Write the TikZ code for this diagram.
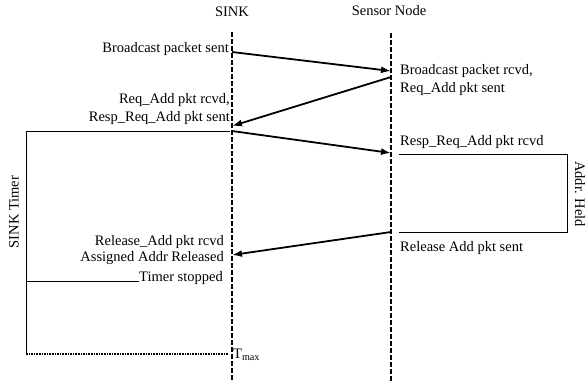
\documentclass[tikz,border=0pt]{standalone}
\usepackage{fontspec}
\setmainfont{Liberation Serif}
\usepackage{tikz}
\usetikzlibrary{arrows.meta, positioning}

\tikzset{
    lifeline/.style={line width=1.5pt, dash pattern=on 5pt off 2pt},
    msg/.style={line width=1.8pt, -{Latex[length=10pt, width=7pt]}},
    lbl/.style={inner sep=0pt, font=\fontsize{14.5}{18}\selectfont},
    timer/.style={line width=0.8pt}
}

\begin{document}
\begin{tikzpicture}[x=1pt, y=-1pt]
    \useasboundingbox (0,0) rectangle (588,381);
    % 1. Lifelines
    \node[lbl] (sink) at (232,12) {SINK};
    \node[lbl] (sensor) at (389,11) {Sensor Node};
    \coordinate (sinktop) at (232,32);
    \coordinate (sinkbot) at (232,381);
    \coordinate (sensortop) at (391,33);
    \coordinate (sensorbot) at (391,381);
    \draw[lifeline] (sinktop) -- (sinkbot);
    \draw[lifeline] (sensortop) -- (sensorbot);

    % 2. Points on the lifelines
    \coordinate (s1) at (232,52);
    \coordinate (n1) at (391,71);
    \coordinate (n2) at (391,77);
    \coordinate (s2) at (232,126);
    \coordinate (s3) at (232,131);
    \coordinate (n3) at (391,153);
    \coordinate (n4) at (391,232);
    \coordinate (s4) at (232,255);

    % 3. Messages
    \draw[msg] (s1) -- (n1);
    \draw[msg] (n2) -- (s2);
    \draw[msg] (s3) -- (n3);
    \draw[msg] (n4) -- (s4);

    % 4. Labels
    \node[lbl, anchor=east] (bsent) at (229,49) {Broadcast packet sent};
    \node[lbl, anchor=west, align=left] (brcvd) at (400,80) {Broadcast packet rcvd,\\Req\_Add pkt sent};
    \node[lbl, anchor=east, align=right] (reqrcvd) at (230,109) {Req\_Add pkt rcvd,\\Resp\_Req\_Add pkt sent};
    \node[lbl, anchor=west] (resprcvd) at (400,142) {Resp\_Req\_Add pkt rcvd};
    \node[lbl, anchor=west] (relsent) at (400,248) {Release Add pkt sent};
    \node[lbl, anchor=east, align=right] (relrcvd) at (224,250) {Release\_Add pkt rcvd\\[-2pt]Assigned Addr Released};
    \node[lbl, anchor=base east] (tstop) at (223,281) {Timer stopped};
    \node[lbl, anchor=west] (tmax) at (233,355) {T\textsubscript{max}};

    % 5. Sink timer
    \coordinate (ttop) at (26,131);
    \coordinate (tbot) at (26,354);
    \draw[timer] (230,131) -- (ttop) -- (tbot);
    \draw[timer] (26,281) -- (tstop.base west);
    \draw[line width=1.6pt, densely dotted] (tbot) -- (228,354);
    \node[lbl, rotate=90] (sinktimer) at (14,212) {SINK Timer};

    % 6. Address held
    \coordinate (h1) at (399,154);
    \coordinate (h2) at (567,154);
    \coordinate (h3) at (567,232);
    \coordinate (h4) at (399,232);
    \draw[timer] (h1) -- (h2) -- (h3) -- (h4);
    \node[lbl, rotate=-90] (held) at (580,194) {Addr. Held};
\end{tikzpicture}
\end{document}
